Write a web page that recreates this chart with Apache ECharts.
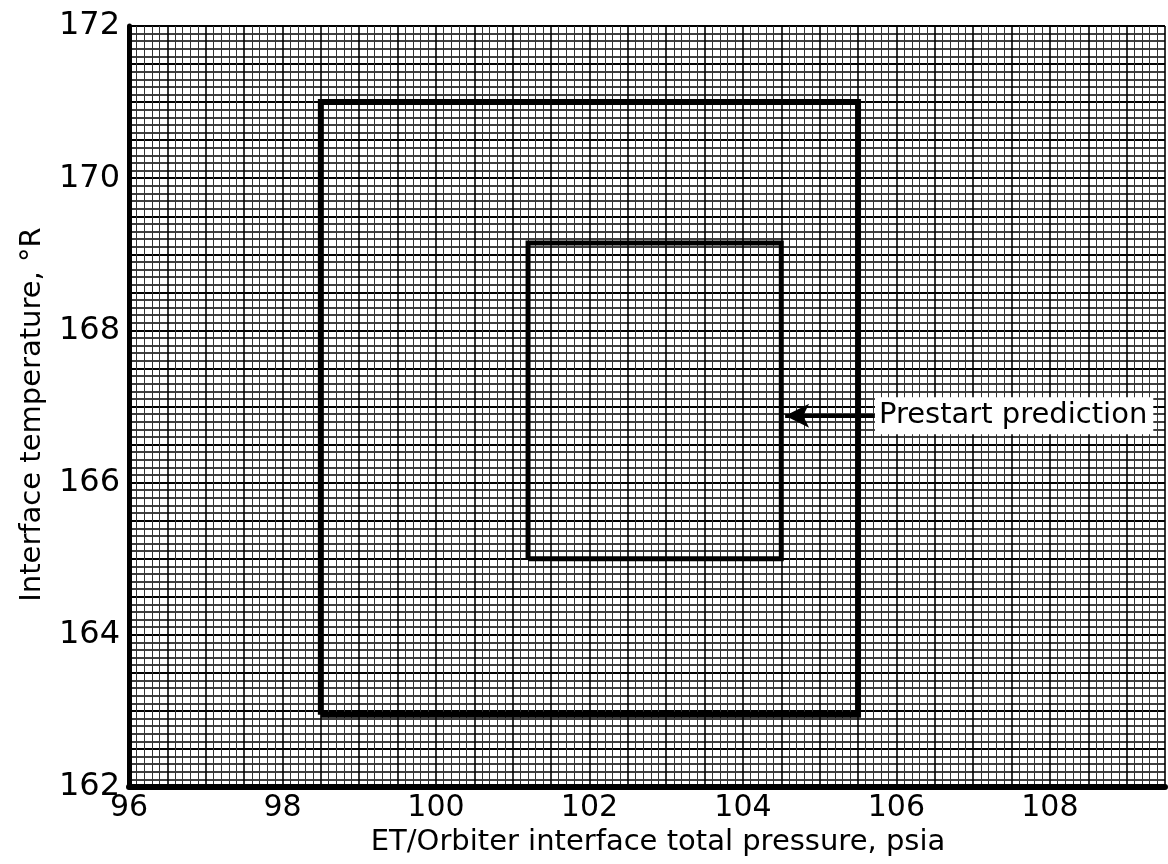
<!DOCTYPE html>
<html>
<head>
<meta charset="utf-8">
<script src="https://cdn.jsdelivr.net/npm/echarts@6/dist/echarts.min.js"></script>
<style>
html,body{margin:0;padding:0;background:#fff;}
#chart{width:1168px;height:864px;}
</style>
</head>
<body>
<div id="chart"></div>
<script>
// ---- data ----
var xTickLabels = [96, 98, 100, 102, 104, 106, 108];
var yTickLabels = [162, 164, 166, 168, 170, 172];
var xTitle = 'ET/Orbiter interface total pressure, psia';
var yTitle = 'Interface temperature, \u00b0R';
// outer box (pressure, temperature) corners
var outerBoxX = [98.5, 105.5, 105.5, 98.5, 98.5];
var outerBoxY = [162.95, 162.95, 171.0, 171.0, 162.95];
// inner box: prestart prediction
var innerBoxX = [101.2, 104.5, 104.5, 101.2, 101.2];
var innerBoxY = [165.0, 165.0, 169.15, 169.15, 165.0];
var annotText = 'Prestart prediction';
var annotFrom = [105.72, 166.88];
var annotTo = [104.55, 166.88];

function pairs(xs, ys) { return xs.map(function (x, i) { return [x, ys[i]]; }); }

var font = 'DejaVu Sans';
var chart = echarts.init(document.getElementById('chart'), null, {renderer: 'canvas'});
chart.setOption({
  animation: false,
  backgroundColor: '#fff',
  grid: {left: 129, right: 3, top: 26, bottom: 77, containLabel: false},
  xAxis: {
    type: 'value', min: 96, max: 109.5, interval: 0.5,
    name: xTitle, nameLocation: 'middle', nameGap: 36,
    nameTextStyle: {fontFamily: font, fontSize: 29, color: '#000', padding: [0, 0, 0, 22]},
    axisLine: {show: true, onZero: false, lineStyle: {color: '#000', width: 6}},
    axisTick: {show: false},
    axisLabel: {
      fontFamily: font, fontSize: 30, color: '#000', margin: 6,
      formatter: function (v) { return xTickLabels.indexOf(v) >= 0 ? String(v) : ''; }
    },
    splitLine: {show: true, lineStyle: {color: '#000', width: 1.6}},
    minorTick: {show: false, splitNumber: 5},
    minorSplitLine: {show: true, lineStyle: {color: '#333', width: 1}}
  },
  yAxis: {
    type: 'value', min: 162, max: 172, interval: 0.5,
    name: yTitle, nameLocation: 'middle', nameGap: 82, nameRotate: 90,
    nameTextStyle: {fontFamily: font, fontSize: 29, color: '#000', padding: [0, 16, 0, 0]},
    axisLine: {show: true, onZero: false, lineStyle: {color: '#000', width: 5}},
    axisTick: {show: false},
    axisLabel: {
      fontFamily: font, fontSize: 32, color: '#000', margin: 9, padding: [0, 0, 12, 0],
      formatter: function (v) { return yTickLabels.indexOf(v) >= 0 ? String(v) : ''; }
    },
    splitLine: {show: true, lineStyle: {color: '#000', width: 2}},
    minorTick: {show: false, splitNumber: 5},
    minorSplitLine: {show: true, lineStyle: {color: '#000', width: 1.5}}
  },
  series: [
    {
      type: 'line', name: 'Outer', data: pairs(outerBoxX, outerBoxY),
      symbol: 'none', lineStyle: {color: '#000', width: 6, join: 'miter'}, z: 5
    },
    {
      type: 'line', name: 'Prestart prediction', data: pairs(innerBoxX, innerBoxY),
      symbol: 'none', lineStyle: {color: '#000', width: 5, join: 'miter'}, z: 5,
      markLine: {
        silent: true, symbol: ['none', 'arrow'], symbolSize: [18, 24],
        lineStyle: {color: '#000', width: 4, type: 'solid'},
        label: {show: false},
        data: [[{coord: annotFrom}, {coord: annotTo}]]
      },
      markPoint: {
        silent: true, symbol: 'rect', symbolSize: 0,
        data: [{coord: annotFrom}],
        label: {
          show: true, position: 'right', distance: 0, formatter: annotText,
          fontFamily: font, fontSize: 29, color: '#000',
          backgroundColor: '#fff', padding: [4, 6, 4, 4]
        }
      }
    }
  ]
});
</script>
</body>
</html>
